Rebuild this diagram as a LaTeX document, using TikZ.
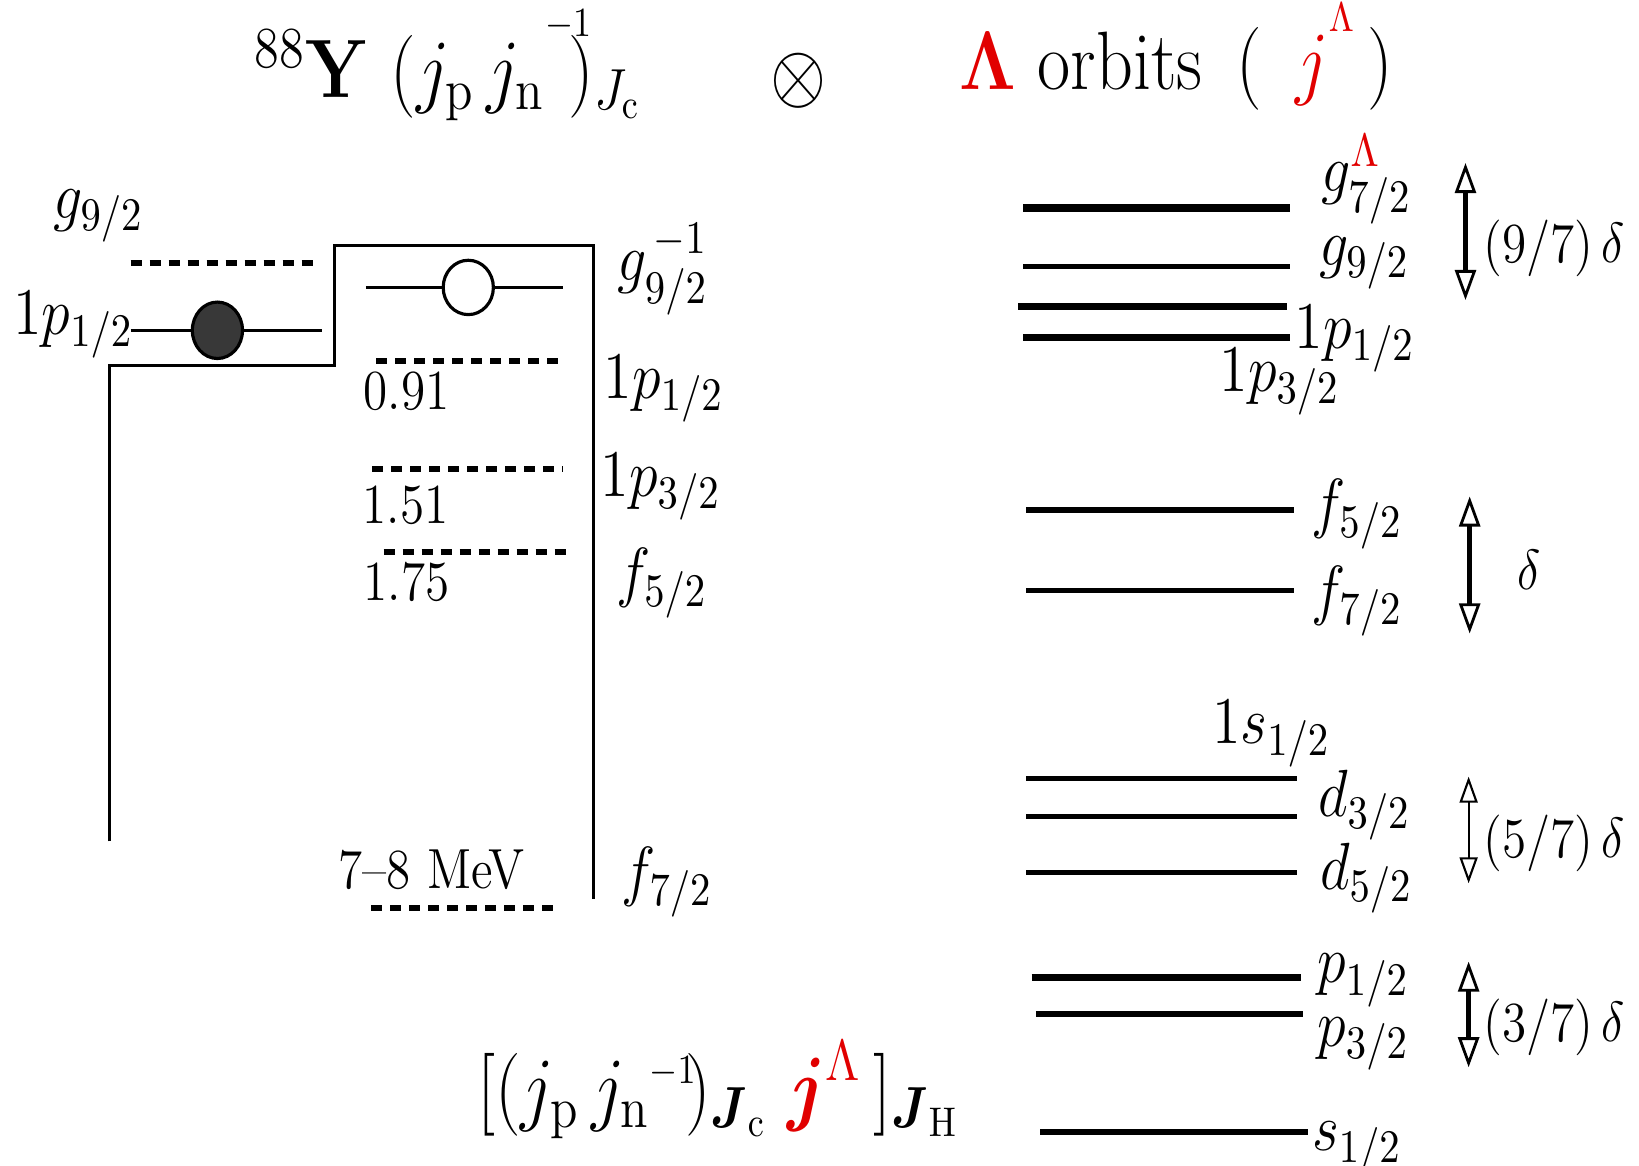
\RequirePackage{fix-cm}
\documentclass[tikz,border=0pt]{standalone}
\usepackage{amsmath}
\usepackage{tikz}
\usetikzlibrary{arrows.meta}

\definecolor{lamred}{RGB}{225,0,0}
\newcommand{\tall}[1]{\scalebox{1}[1.15]{#1}}
\newcommand{\hisup}[1]{\raisebox{0.8ex}{$\scriptscriptstyle #1$}}

\begin{document}
\begin{tikzpicture}[
      x=0.1045mm, y=-0.1045mm,
      big/.style={inner sep=0pt, font=\fontsize{20.5}{24}\selectfont},
      lab/.style={inner sep=0pt, font=\fontsize{16.5}{19}\selectfont},
      num/.style={inner sep=0pt, font=\fontsize{14}{17}\selectfont},
      shell/.style={line width=0.9pt},
      orb/.style={line width=0.9pt},
      gapline/.style={line width=1.7pt, dash pattern=on 1.1mm off 0.8mm},
      lvl/.style={line width=1.5pt},
      lvlb/.style={line width=1.9pt},
      lvlbb/.style={line width=2.3pt},
      split/.style={line width=1.6pt, {Triangle[open, length=3mm, width=2.1mm, line width=0.8pt]}-{Triangle[open, length=3mm, width=2.1mm, line width=0.8pt]}},
      splitthin/.style={line width=0.6pt, {Triangle[open, length=2.6mm, width=1.8mm, line width=0.6pt]}-{Triangle[open, length=2.6mm, width=1.8mm, line width=0.6pt]}}
    ]
    \useasboundingbox (0,0) rectangle (1568,1115);

    % headings
    \node[big, anchor=base west] (core) at (243,93)
      {\tall{$^{88}\mathbf{Y}\ (j_{\mathrm p}\,{j_{\mathrm n}}^{\hisup{-1}}\!\!)_{J_{\mathrm c}}$}};
    \node[big] (times) at (764,77) {\tall{$\otimes$}};
    \node[big, anchor=base west] (orbits) at (917,86)
      {\tall{$\mathbf{\textcolor{lamred}{\Lambda}}$ orbits\ \,(\ \,$\textcolor{lamred}{j^{\hisup{\Lambda}}}$\,)}};

    % core nucleus
    \draw[shell] (105,805) -- (105,350) -- (320,350) -- (320,235) -- (568,235) -- (568,860);
    \draw[gapline] (125,252) -- (305,252);
    \draw[orb] (125,316) -- (308,316);
    \filldraw[orb, fill=black!78] (208,316) ellipse [x radius=24, y radius=27];
    \draw[orb] (350,275) -- (539,275);
    \filldraw[orb, fill=white] (448,275) ellipse [x radius=24, y radius=26];
    \draw[gapline] (360,345) -- (540,345);
    \draw[gapline] (356,449) -- (538,449);
    \draw[gapline] (367,528) -- (545,528);
    \draw[gapline] (355,869) -- (535,869);

    \node[lab] (pg) at (94,207) {\tall{$g_{9/2}$}};
    \node[lab] (pp) at (70,311) {\tall{$1p_{1/2}$}};
    \node[lab] (ng) at (634,258) {\tall{$g^{\,-1}_{9/2}$}};
    \node[lab] (np1) at (635,372) {\tall{$1p_{1/2}$}};
    \node[lab] (np3) at (632,466) {\tall{$1p_{3/2}$}};
    \node[lab] (nf5) at (633,558) {\tall{$f_{5/2}$}};
    \node[lab] (nf7) at (638,844) {\tall{$f_{7/2}$}};

    \node[num] (e1) at (389,374) {\tall{0.91}};
    \node[num] (e2) at (388,483) {\tall{1.51}};
    \node[num] (e3) at (389,557) {\tall{1.75}};
    \node[num] (e4) at (413,832) {\tall{7--8 MeV}};

    % Lambda orbits
    \draw[lvlbb] (979,199) -- (1234,199);
    \draw[lvl] (979,255) -- (1234,255);
    \draw[lvlb] (974,293) -- (1231,293);
    \draw[lvlb] (979,323) -- (1234,323);
    \draw[lvl] (982,488) -- (1238,488);
    \draw[lvl] (982,565) -- (1238,565);
    \draw[lvl] (982,745) -- (1241,745);
    \draw[lvl] (982,781) -- (1241,781);
    \draw[lvl] (982,835) -- (1241,835);
    \draw[lvlb] (987,935) -- (1245,935);
    \draw[lvlb] (991,970) -- (1247,970);
    \draw[lvl] (995,1083) -- (1251,1083);

    \node[lab] (lg7) at (1307,172) {\tall{$g^{\textcolor{lamred}{\Lambda}}_{7/2}$}};
    \node[lab] (lg9) at (1305,252) {\tall{$g_{9/2}$}};
    \node[lab] (lp1) at (1296,324) {\tall{$1p_{1/2}$}};
    \node[lab] (lp3) at (1224,365) {\tall{$1p_{3/2}$}};
    \node[lab] (lf5) at (1298,492) {\tall{$f_{5/2}$}};
    \node[lab] (lf7) at (1298,575) {\tall{$f_{7/2}$}};
    \node[lab] (ls1) at (1216,702) {\tall{$1s_{1/2}$}};
    \node[lab] (ld3) at (1305,770) {\tall{$d_{3/2}$}};
    \node[lab] (ld5) at (1307,840) {\tall{$d_{5/2}$}};
    \node[lab] (lq1) at (1304,938) {\tall{$p_{1/2}$}};
    \node[lab] (lq3) at (1304,999) {\tall{$p_{3/2}$}};
    \node[lab] (ls0) at (1298,1098) {\tall{$s_{1/2}$}};

    % spin-orbit splittings
    \coordinate (gtop) at (1402,156);
    \coordinate (gbot) at (1402,287);
    \coordinate (ftop) at (1406,475);
    \coordinate (fbot) at (1406,606);
    \coordinate (dtop) at (1405,743);
    \coordinate (dbot) at (1405,845);
    \coordinate (ptop) at (1405,920);
    \coordinate (pbot) at (1405,1021);
    \draw[split] (gtop) -- (gbot);
    \draw[split] (ftop) -- (fbot);
    \draw[splitthin] (dtop) -- (dbot);
    \draw[split] (ptop) -- (pbot);
    \node[num] (sg) at (1487,238) {\tall{$(9/7)\,\delta$}};
    \node[num] (sf) at (1463,545) {\tall{$\delta$}};
    \node[num] (sd) at (1487,807) {\tall{$(5/7)\,\delta$}};
    \node[num] (sp) at (1487,983) {\tall{$(3/7)\,\delta$}};

    % coupled hypernuclear state
    \node[big, anchor=base west] (coupling) at (456,1067)
      {\tall{$[(j_{\mathrm p}\,{j_{\mathrm n}}^{\scriptscriptstyle -1}\!)_{\boldsymbol{J}_{\mathrm c}}\;\textcolor{lamred}{\boldsymbol{j}^{\Lambda}}\,]_{\boldsymbol{J}_{\mathrm H}}$}};
  \end{tikzpicture}
\end{document}
